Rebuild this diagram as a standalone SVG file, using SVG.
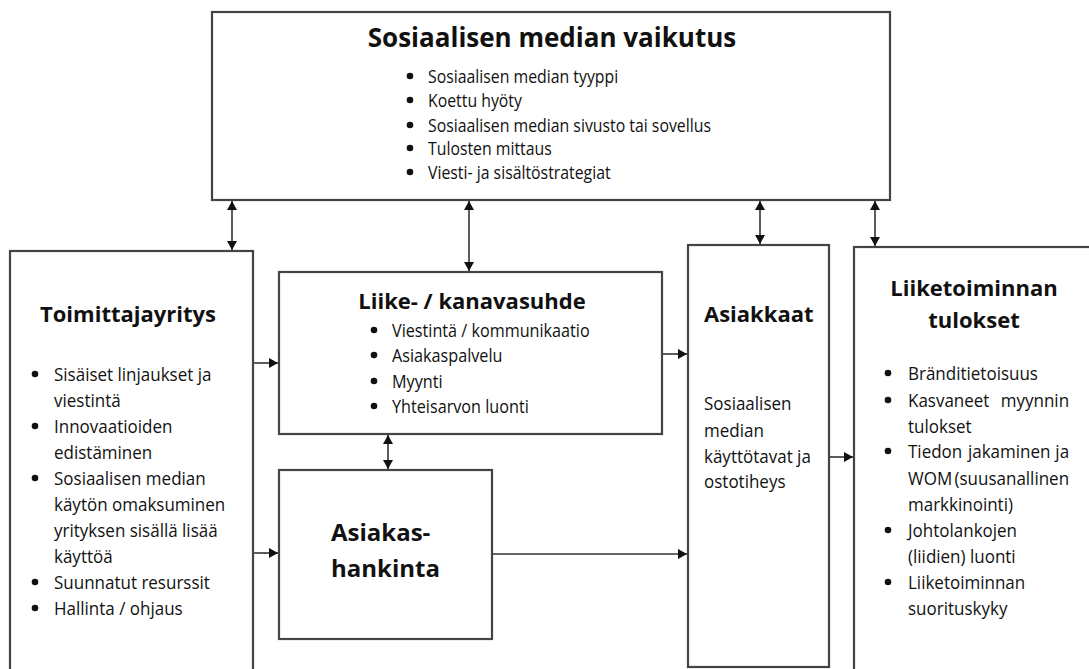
<svg xmlns="http://www.w3.org/2000/svg" width="1089" height="669" viewBox="0 0 1089 669">
<style>
.box{fill:#fff;stroke:#444;stroke-width:2.2}
.t{font-family:"Open Sans","Noto Sans","DejaVu Sans",sans-serif;fill:#111}
.h{font-weight:bold}
.sa{font-size:18px}
.sb{font-size:19px}
.c{stroke:#333;stroke-width:1.6;fill:none}
.dot{fill:#111}
</style>
<defs>
<marker id="ah" viewBox="0 0 10 10" refX="10" refY="5" markerWidth="9" markerHeight="10" markerUnits="userSpaceOnUse" orient="auto-start-reverse" preserveAspectRatio="none">
<path d="M0,0 L10,5 L0,10 z" fill="#111"/>
</marker>
</defs>
<rect width="1089" height="669" fill="#fff"/>

<g id="connectors">
<line class="c" x1="232" y1="201" x2="232" y2="250" marker-start="url(#ah)" marker-end="url(#ah)"/>
<line class="c" x1="469" y1="201" x2="469" y2="271" marker-start="url(#ah)" marker-end="url(#ah)"/>
<line class="c" x1="760" y1="201" x2="760" y2="244" marker-start="url(#ah)" marker-end="url(#ah)"/>
<line class="c" x1="875" y1="201" x2="875" y2="246" marker-start="url(#ah)" marker-end="url(#ah)"/>
<line class="c" x1="388" y1="435" x2="388" y2="469" marker-start="url(#ah)" marker-end="url(#ah)"/>
<line class="c" x1="254" y1="363" x2="278" y2="363" marker-end="url(#ah)"/>
<line class="c" x1="254" y1="553" x2="278" y2="553" marker-end="url(#ah)"/>
<line class="c" x1="663" y1="354" x2="687" y2="354" marker-end="url(#ah)"/>
<line class="c" x1="493" y1="554" x2="687" y2="554" marker-end="url(#ah)"/>
<line class="c" x1="830" y1="457" x2="853" y2="457" marker-end="url(#ah)"/>
</g>

<g id="node-sosiaalisen-median-vaikutus">
<rect class="box" x="212" y="12" width="678" height="188"/>
<text class="t h" x="552" y="47" font-size="26" text-anchor="middle">Sosiaalisen median vaikutus</text>
<circle class="dot" cx="410" cy="76" r="3.3"/>
<circle class="dot" cx="410" cy="100" r="3.3"/>
<circle class="dot" cx="410" cy="125" r="3.3"/>
<circle class="dot" cx="410" cy="148" r="3.3"/>
<circle class="dot" cx="410" cy="172" r="3.3"/>
<g transform="translate(428,0) scale(0.88,1)">
<text class="t sa" x="0" y="83">Sosiaalisen median tyyppi</text>
<text class="t sa" x="0" y="107">Koettu hyöty</text>
<text class="t sa" x="0" y="132">Sosiaalisen median sivusto tai sovellus</text>
<text class="t sa" x="0" y="155">Tulosten mittaus</text>
<text class="t sa" x="0" y="179">Viesti- ja sisältöstrategiat</text>
</g>
</g>

<g id="node-toimittajayritys">
<rect class="box" x="10" y="251" width="243" height="440"/>
<text class="t h" x="128" y="322" font-size="22" text-anchor="middle">Toimittajayritys</text>
<circle class="dot" cx="35" cy="374" r="3.3"/>
<circle class="dot" cx="35" cy="426" r="3.3"/>
<circle class="dot" cx="35" cy="478" r="3.3"/>
<circle class="dot" cx="35" cy="582" r="3.3"/>
<circle class="dot" cx="35" cy="608" r="3.3"/>
<g transform="translate(54,0) scale(0.895,1)">
<text class="t sb" x="0" y="381">Sisäiset linjaukset ja</text>
<text class="t sb" x="0" y="407">viestintä</text>
<text class="t sb" x="0" y="433">Innovaatioiden</text>
<text class="t sb" x="0" y="459">edistäminen</text>
<text class="t sb" x="0" y="485">Sosiaalisen median</text>
<text class="t sb" x="0" y="511">käytön omaksuminen</text>
<text class="t sb" x="0" y="537">yrityksen sisällä lisää</text>
<text class="t sb" x="0" y="563">käyttöä</text>
<text class="t sb" x="0" y="589">Suunnatut resurssit</text>
<text class="t sb" x="0" y="615">Hallinta / ohjaus</text>
</g>
</g>

<g id="node-liike-kanavasuhde">
<rect class="box" x="279" y="272" width="383" height="162"/>
<text class="t h" x="472" y="309" font-size="22" text-anchor="middle">Liike- / kanavasuhde</text>
<circle class="dot" cx="374" cy="330" r="3.3"/>
<circle class="dot" cx="374" cy="355" r="3.3"/>
<circle class="dot" cx="374" cy="381" r="3.3"/>
<circle class="dot" cx="374" cy="406" r="3.3"/>
<g transform="translate(392,0) scale(0.9,1)">
<text class="t sa" x="0" y="337">Viestintä / kommunikaatio</text>
<text class="t sa" x="0" y="362">Asiakaspalvelu</text>
<text class="t sa" x="0" y="388">Myynti</text>
<text class="t sa" x="0" y="413">Yhteisarvon luonti</text>
</g>
</g>

<g id="node-asiakashankinta">
<rect class="box" x="279" y="470" width="213" height="169"/>
<text class="t h" x="331" y="541" font-size="24">Asiakas-</text>
<text class="t h" x="331" y="577" font-size="24">hankinta</text>
</g>

<g id="node-asiakkaat">
<rect class="box" x="688" y="245" width="141" height="422"/>
<text class="t h" x="704" y="322" font-size="22">Asiakkaat</text>
<g transform="translate(704,0) scale(0.895,1)">
<text class="t sb" x="0" y="410">Sosiaalisen</text>
<text class="t sb" x="0" y="437">median</text>
<text class="t sb" x="0" y="463">käyttötavat ja</text>
<text class="t sb" x="0" y="488">ostotiheys</text>
</g>
</g>

<g id="node-liiketoiminnan-tulokset">
<rect class="box" x="854" y="247" width="260" height="440"/>
<text class="t h" x="974" y="296" font-size="22" text-anchor="middle">Liiketoiminnan</text>
<text class="t h" x="974" y="328" font-size="22" text-anchor="middle">tulokset</text>
<circle class="dot" cx="888" cy="373" r="3.3"/>
<circle class="dot" cx="888" cy="400" r="3.3"/>
<circle class="dot" cx="888" cy="451" r="3.3"/>
<circle class="dot" cx="888" cy="530" r="3.3"/>
<circle class="dot" cx="888" cy="582" r="3.3"/>
<g transform="translate(908,0) scale(0.895,1)">
<text class="t sb" x="0" y="380">Bränditietoisuus</text>
<text class="t sb" y="407"><tspan x="0">Kasvaneet</tspan> <tspan x="180" text-anchor="end">myynnin</tspan></text>
<text class="t sb" x="0" y="433">tulokset</text>
<text class="t sb" y="458"><tspan x="0">Tiedon</tspan> <tspan x="67">jakaminen</tspan> <tspan x="180" text-anchor="end">ja</tspan></text>
<text class="t sb" y="485"><tspan x="0">WOM</tspan> <tspan x="180" text-anchor="end">(suusanallinen</tspan></text>
<text class="t sb" x="0" y="511">markkinointi)</text>
<text class="t sb" x="0" y="537">Johtolankojen</text>
<text class="t sb" x="0" y="563">(liidien) luonti</text>
<text class="t sb" x="0" y="589">Liiketoiminnan</text>
<text class="t sb" x="0" y="615">suorituskyky</text>
</g>
</g>
</svg>
